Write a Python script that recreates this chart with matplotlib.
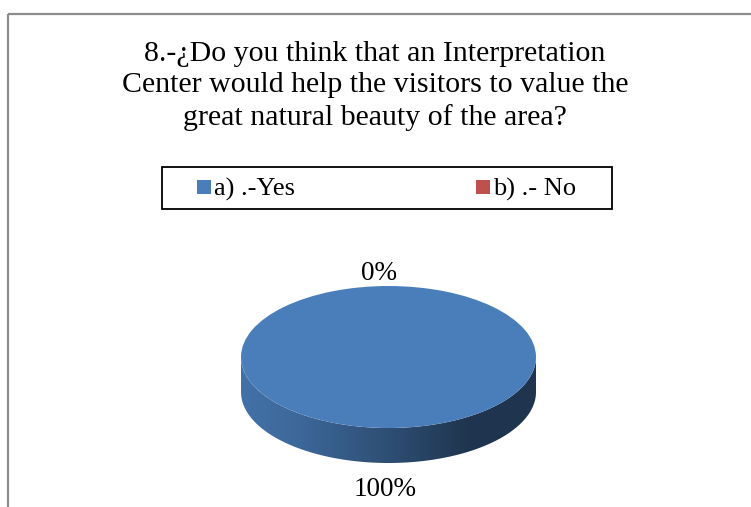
import numpy as np
import matplotlib
matplotlib.use("Agg")
import matplotlib.pyplot as plt
from matplotlib.patches import Rectangle, Polygon
from matplotlib.colors import to_rgb

# ---- data ----
categories = ["a) .-Yes", "b) .- No"]
values = [100, 0]
colors = ["#4A7EBB", "#C0504D"]
title = "8.-¿Do you think that an Interpretation\nCenter would help the visitors to value the\ngreat natural beauty of the area?"

W, H = 751, 507
fig = plt.figure(figsize=(W / 100, H / 100), dpi=100)
ax = fig.add_axes([0, 0, 1, 1])
ax.set_xlim(0, W)
ax.set_ylim(H, 0)
ax.axis("off")

serif = ["Liberation Serif", "DejaVu Serif"]

# chart frame (top and left visible)
ax.plot([8, W], [14, 14], color="#8c8c8c", lw=1.6, solid_capstyle="butt")
ax.plot([8, 8], [14, H], color="#8c8c8c", lw=1.6, solid_capstyle="butt")

# title
ax.text(375, 86, title, ha="center", va="center", fontsize=21.5,
        family=serif, linespacing=1.27)

# legend
ax.add_patch(Rectangle((162, 167), 450, 42, fill=False, ec="black", lw=1.3))
leg_x = [197, 476]
for x, cat, col in zip(leg_x, categories, colors):
    ax.add_patch(Rectangle((x, 180), 14, 14, fc=col, ec="none"))
    ax.text(x + 17, 189, cat, ha="left", va="center", fontsize=19, family=serif)

# ---- 3D-looking pie ----
px0, px1 = 241, 536
py_top, py_ell_bot, py_bot = 286, 428, 463
half_h = (py_ell_bot - py_top) / 2
d = (py_bot - py_ell_bot) / half_h
axp = fig.add_axes([px0 / W, (H - py_bot) / H, (px1 - px0) / W, (py_bot - py_top) / H])

# side wall with horizontal shading, coloured from the first (100 %) slice
t = np.linspace(np.pi, 2 * np.pi, 200)
side_pts = np.concatenate([np.column_stack([np.cos(t), np.sin(t)]),
                           np.column_stack([np.cos(t[::-1]), np.sin(t[::-1]) - d])])
side = Polygon(side_pts, closed=True, fc="none", ec="none")
axp.add_patch(side)
base = np.array(to_rgb(colors[int(np.argmax(values))]))
xs = np.linspace(-1, 1, 300)
fac = np.interp(xs, [-1, -0.6, 0.0, 0.55, 1.0], [0.90, 0.82, 0.62, 0.42, 0.42])
grad = np.clip(base[None, :] * fac[:, None], 0, 1)
img = np.repeat(grad[None, :, :], 2, axis=0)
im = axp.imshow(img, extent=[-1, 1, -1 - d - 0.05, 0.05], aspect="auto",
                interpolation="bilinear", zorder=1)
im.set_clip_path(side)

wedges, _ = axp.pie(values, colors=colors, startangle=90, counterclock=False,
                    radius=1, center=(0, 0), wedgeprops=dict(linewidth=0))
for w in wedges:
    w.set_zorder(2)
axp.set_aspect("auto")
axp.set_xlim(-1, 1)
axp.set_ylim(-1 - d, 1)
axp.axis("off")

# data labels
total = sum(values)
ax.text(379, 274, f"{values[1] / total:.0%}", ha="center", va="center",
        fontsize=19.5, family=serif)
ax.text(385, 489, f"{values[0] / total:.0%}", ha="center", va="center",
        fontsize=19.5, family=serif)

fig.savefig("out.png", dpi=100)
